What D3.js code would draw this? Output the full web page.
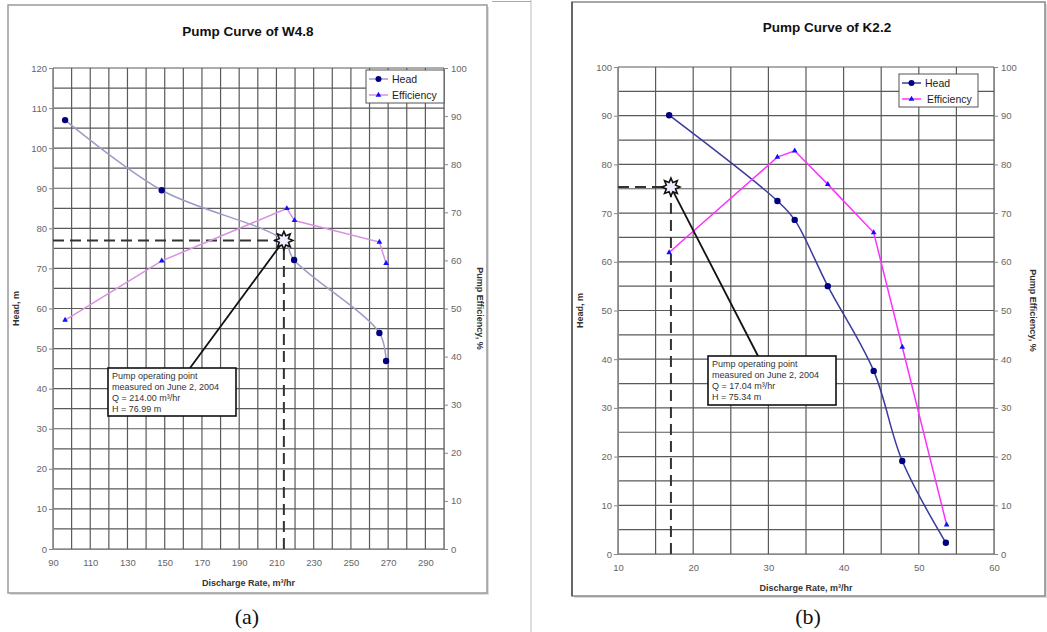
<!DOCTYPE html>
<html>
<head>
<meta charset="utf-8">
<script src="https://cdn.jsdelivr.net/npm/d3@7"></script>
<style>
  body { margin: 0; background: #fff; }
  text { font-family: Arial, "Liberation Sans", sans-serif; }
</style>
</head>
<body>
<div id="chart"></div>
<script>
// ---- data ----
var headA_q = [96.5, 148.4, 213.7, 219.5, 265.3, 268.9];
var headA_h = [107, 89.5, 77.0, 72.1, 53.9, 46.9];
var effA_q = [96.5, 148.4, 215.6, 219.7, 265.3, 268.9];
var effA_e = [47.6, 59.9, 70.8, 68.3, 63.8, 59.4];
var opA = {q: 214.00, h: 76.99};
var boxA = ["Pump operating point", "measured on June 2, 2004", "Q = 214.00 m³/hr", "H = 76.99 m"];

var headB_q = [16.8, 31.2, 33.5, 37.9, 44.0, 47.8, 53.6];
var headB_h = [90.1, 72.5, 68.6, 55.0, 37.6, 19.1, 2.3];
var effB_q = [16.8, 31.2, 33.5, 37.9, 44.0, 47.8, 53.7];
var effB_e = [61.9, 81.5, 82.8, 75.9, 66.0, 42.5, 6.0];
var opB = {q: 17.04, h: 75.34};
var boxB = ["Pump operating point", "measured on June 2, 2004", "Q = 17.04 m³/hr", "H = 75.34 m"];

var xTicksA = d3.range(90, 300, 20);
var xTicksB = d3.range(10, 61, 10);

var W = 1047, H = 632;
var svg = d3.select("#chart").append("svg").attr("width", W).attr("height", H);

// separator between the two panels
svg.append("line").attr("x1", 531).attr("x2", 531).attr("y1", 0).attr("y2", H)
   .attr("stroke", "#bbb").attr("stroke-width", 1);
svg.append("line").attr("x1", 492).attr("x2", 531).attr("y1", 1.5).attr("y2", 1.5)
   .attr("stroke", "#aaa").attr("stroke-width", 1);

function star(cx, cy, ro, ri) {
  var pts = [];
  for (var i = 0; i < 16; i++) {
    var r = i % 2 == 0 ? ro : ri;
    var a = Math.PI * i / 8 - Math.PI / 2;
    pts.push([cx + r * Math.cos(a), cy + r * Math.sin(a)]);
  }
  return "M" + pts.join("L") + "Z";
}

function drawPanel(cfg) {
  // outer frame
  var f = cfg.frame;
  svg.append("rect").attr("x", f[0] + 2).attr("y", f[1] + 2).attr("width", f[2] - f[0]).attr("height", f[3] - f[1])
     .attr("fill", "#ddd");
  svg.append("rect").attr("x", f[0]).attr("y", f[1]).attr("width", f[2] - f[0]).attr("height", f[3] - f[1])
     .attr("fill", "#fff").attr("stroke", cfg.frameColor).attr("stroke-width", 1.5);
  if (cfg.darkLeft) {
    svg.append("line").attr("x1", f[0]).attr("x2", f[0]).attr("y1", f[1]).attr("y2", f[3])
       .attr("stroke", "#666").attr("stroke-width", 2);
  }

  var x = d3.scaleLinear().domain(cfg.xDomain).range([cfg.left, cfg.right]);
  var yL = d3.scaleLinear().domain([0, cfg.yMax]).range([cfg.bottom, cfg.top]);
  var yR = d3.scaleLinear().domain([0, 100]).range([cfg.bottom, cfg.top]);

  var g = svg.append("g");

  // grid
  g.selectAll(".vg").data(d3.range(cfg.xDomain[0], cfg.xDomain[1] + 0.001, cfg.xGrid)).enter()
   .append("line").attr("x1", function(d) { return x(d); }).attr("x2", function(d) { return x(d); })
   .attr("y1", cfg.top).attr("y2", cfg.bottom).attr("stroke", "#5a5a5a").attr("stroke-width", 1.2);
  g.selectAll(".hg").data(d3.range(0, cfg.yMax + 0.001, 5)).enter()
   .append("line").attr("y1", function(d) { return yL(d); }).attr("y2", function(d) { return yL(d); })
   .attr("x1", cfg.left).attr("x2", cfg.right).attr("stroke", "#5a5a5a").attr("stroke-width", 1.2);

  // axes
  var axL = g.append("g").attr("transform", "translate(" + cfg.left + ",0)")
     .call(d3.axisLeft(yL).tickValues(d3.range(0, cfg.yMax + 1, 10)).tickSize(4).tickPadding(2));
  var axR = g.append("g").attr("transform", "translate(" + cfg.right + ",0)")
     .call(d3.axisRight(yR).tickValues(d3.range(0, 101, 10)).tickSize(4).tickPadding(3));
  var axB = g.append("g").attr("transform", "translate(0," + cfg.bottom + ")")
     .call(d3.axisBottom(x).tickValues(cfg.xTicks).tickSize(0).tickPadding(10));
  [axL, axR, axB].forEach(function(a) {
    a.selectAll("path.domain").attr("stroke", "#888");
    a.selectAll(".tick line").attr("stroke", "#888");
    a.selectAll("text").attr("fill", "#666").style("font-size", "9.5px").style("font-family", "Arial, 'Liberation Sans', sans-serif");
  });

  // titles
  svg.append("text").attr("x", cfg.titleX).attr("y", cfg.titleY).attr("text-anchor", "middle")
     .style("font-size", "13.5px").style("font-weight", "bold").attr("fill", "#111").text(cfg.title);
  svg.append("text").attr("x", (cfg.left + cfg.right) / 2).attr("y", cfg.bottom + 37).attr("text-anchor", "middle")
     .style("font-size", "9px").style("font-weight", "bold").attr("fill", "#333").text("Discharge Rate, m³/hr");
  svg.append("text").attr("transform", "translate(" + cfg.yTitleL + "," + ((cfg.top + cfg.bottom) / 2) + ") rotate(-90)")
     .attr("text-anchor", "middle").style("font-size", "9px").style("font-weight", "bold").attr("fill", "#333").text("Head, m");
  svg.append("text").attr("transform", "translate(" + cfg.yTitleR + "," + ((cfg.top + cfg.bottom) / 2) + ") rotate(90)")
     .attr("text-anchor", "middle").style("font-size", "9px").style("font-weight", "bold").attr("fill", "#333").text("Pump Efficiency, %");
  svg.append("text").attr("x", cfg.capX).attr("y", 624).attr("text-anchor", "middle")
     .style("font-family", "'Times New Roman', 'Liberation Serif', serif").style("font-size", "22px").attr("fill", "#111").text(cfg.caption);

  // dashed guide lines to operating point
  var px = x(cfg.op.q), py = yL(cfg.op.h);
  g.append("line").attr("x1", cfg.left).attr("x2", px).attr("y1", py).attr("y2", py)
   .attr("stroke", "#333").attr("stroke-width", 2).attr("stroke-dasharray", "11,6");
  g.append("line").attr("x1", px).attr("x2", px).attr("y1", cfg.bottom).attr("y2", py)
   .attr("stroke", "#333").attr("stroke-width", 2).attr("stroke-dasharray", "11,6");

  // series
  var headPts = cfg.headQ.map(function(q, i) { return [x(q), yL(cfg.headH[i])]; });
  var effPts = cfg.effQ.map(function(q, i) { return [x(q), yR(cfg.effE[i])]; });
  g.append("path").attr("d", d3.line().curve(d3.curveCatmullRom.alpha(0.5))(headPts))
   .attr("fill", "none").attr("stroke", cfg.headColor).attr("stroke-width", 1.5);
  g.append("path").attr("d", d3.line()(effPts))
   .attr("fill", "none").attr("stroke", cfg.effColor).attr("stroke-width", 1.5);
  g.selectAll(".hd").data(headPts).enter().append("circle")
   .attr("cx", function(d) { return d[0]; }).attr("cy", function(d) { return d[1]; })
   .attr("r", 3.2).attr("fill", "#000080");
  var tri = d3.symbol().type(d3.symbolTriangle).size(14);
  g.selectAll(".ef").data(effPts).enter().append("path")
   .attr("transform", function(d) { return "translate(" + d[0] + "," + d[1] + ")"; })
   .attr("d", tri).attr("fill", "#1010ff");

  // leader + callout box
  var b = cfg.box;
  g.append("line").attr("x1", px).attr("y1", py).attr("x2", b.lx).attr("y2", b.y)
   .attr("stroke", "#111").attr("stroke-width", 1.8);
  g.append("path").attr("d", star(px, py, 9, 5)).attr("fill", "#eef").attr("stroke", "#111").attr("stroke-width", 1.6);
  g.append("rect").attr("x", b.x).attr("y", b.y).attr("width", b.w).attr("height", b.h)
   .attr("fill", "#fff").attr("stroke", "#111").attr("stroke-width", 1.6);
  g.selectAll(".bt").data(cfg.boxText).enter().append("text")
   .attr("x", b.x + 4).attr("y", function(d, i) { return b.y + 11 + i * 11; })
   .style("font-size", "9px").attr("fill", "#333").text(function(d) { return d; });

  // legend
  var lg = cfg.legend;
  g.append("rect").attr("x", lg.x).attr("y", lg.y).attr("width", lg.w).attr("height", lg.h)
   .attr("fill", "#fff").attr("stroke", "#555").attr("stroke-width", 1);
  var items = [{name: "Head", color: cfg.headColor, mk: "c"}, {name: "Efficiency", color: cfg.effColor, mk: "t"}];
  items.forEach(function(it, i) {
    var yy = lg.y + 9 + i * 16;
    g.append("line").attr("x1", lg.x + 3).attr("x2", lg.x + 22).attr("y1", yy).attr("y2", yy)
     .attr("stroke", it.color).attr("stroke-width", 1.5);
    if (it.mk == "c") {
      g.append("circle").attr("cx", lg.x + 12.5).attr("cy", yy).attr("r", 3).attr("fill", "#000080");
    } else {
      g.append("path").attr("transform", "translate(" + (lg.x + 12.5) + "," + yy + ")").attr("d", tri).attr("fill", "#1010ff");
    }
    g.append("text").attr("x", lg.x + 26 + (i == 1 ? lg.shift : 0)).attr("y", yy + 3.5)
     .style("font-size", "10.5px").attr("fill", "#222").text(it.name);
  });
}

drawPanel({
  frame: [8, 5, 487, 593], frameColor: "#999", darkLeft: false,
  left: 53, right: 444, top: 68, bottom: 549,
  xDomain: [90, 300], xGrid: 10, xTicks: xTicksA, yMax: 120,
  title: "Pump Curve of W4.8", titleX: 248, titleY: 36,
  yTitleL: 19, yTitleR: 477, capX: 247, caption: "(a)",
  headQ: headA_q, headH: headA_h, effQ: effA_q, effE: effA_e,
  headColor: "#9c9cc4", effColor: "#d890e0",
  op: opA, boxText: boxA,
  box: {x: 108, y: 368, w: 128, h: 48, lx: 190},
  legend: {x: 366, y: 70, w: 78, h: 33, shift: 0}
});

drawPanel({
  frame: [572, 2, 1045, 596], frameColor: "#888", darkLeft: true,
  left: 618, right: 994, top: 67, bottom: 554,
  xDomain: [10, 60], xGrid: 5, xTicks: xTicksB, yMax: 100,
  title: "Pump Curve of K2.2", titleX: 827, titleY: 32,
  yTitleL: 583, yTitleR: 1030, capX: 808, caption: "(b)",
  headQ: headB_q, headH: headB_h, effQ: effB_q, effE: effB_e,
  headColor: "#3a3a9c", effColor: "#ff30ff",
  op: opB, boxText: boxB,
  box: {x: 708, y: 356, w: 128, h: 49, lx: 758},
  legend: {x: 899, y: 74, w: 79, h: 33, shift: 2}
});
</script>
</body>
</html>
